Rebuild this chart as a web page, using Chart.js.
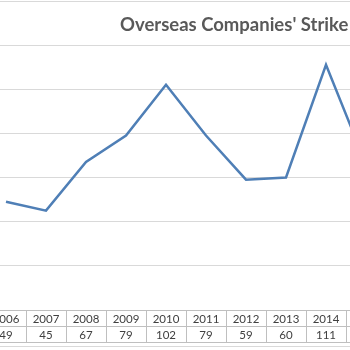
<!DOCTYPE html>
<html>
<head>
<meta charset="utf-8">
<script src="https://cdn.jsdelivr.net/npm/chart.js@4"></script>
<style>
  html, body { margin: 0; padding: 0; width: 350px; height: 350px; overflow: hidden; background: #fff; }
  #frame { position: absolute; left: -60px; top: 1px; width: 520px; height: 346px; border: 1px solid #d9d9d9; box-sizing: border-box; }
  #wrap { position: absolute; left: -54px; top: 0; width: 460px; height: 350px; }
  #title { position: absolute; left: 120px; top: 13px; white-space: nowrap; font: bold 18.5px Lato, "Open Sans", sans-serif; color: #595959; }
</style>
</head>
<body>
<div id="frame"></div>
<div id="wrap"><canvas id="c"></canvas></div>
<div id="title">Overseas Companies' Strike</div>
<script>
const years = ['2006', '2007', '2008', '2009', '2010', '2011', '2012', '2013', '2014', '2015'];
const strikes = [49, 45, 67, 79, 102, 79, 59, 60, 111, 66];

// data table under the plot, placed by the x scale
const tablePlugin = {
  id: 'dataTable',
  afterDraw(chart) {
    const ctx = chart.ctx;
    const x = chart.scales.x;
    const top = chart.chartArea.bottom;
    const rowH = 16;
    const w = x.getPixelForValue(1) - x.getPixelForValue(0);
    ctx.save();
    ctx.strokeStyle = '#bfbfbf';
    ctx.lineWidth = 1;
    ctx.fillStyle = '#404040';
    ctx.font = '11.5px Lato, "Open Sans", sans-serif';
    ctx.textAlign = 'center';
    ctx.textBaseline = 'middle';
    const left = x.getPixelForValue(0) - w / 2;
    const right = x.getPixelForValue(years.length - 1) + w / 2;
    for (let r = 0; r <= 2; r++) {
      const yy = Math.round(top + r * rowH) + 0.5;
      ctx.beginPath(); ctx.moveTo(left - 60, yy); ctx.lineTo(right, yy); ctx.stroke();
    }
    years.forEach((yr, i) => {
      const cx = x.getPixelForValue(i);
      const bx = Math.round(cx + w / 2) + 0.5;
      ctx.beginPath(); ctx.moveTo(bx, top); ctx.lineTo(bx, top + 2 * rowH); ctx.stroke();
      ctx.fillText(yr, cx, top + rowH / 2 + 1);
      ctx.fillText(String(strikes[i]), cx, top + rowH * 1.5 + 1);
    });
    ctx.restore();
  }
};

new Chart(document.getElementById('c'), {
  type: 'line',
  data: {
    labels: years,
    datasets: [{
      label: 'Strikes',
      data: strikes,
      borderColor: '#4f7fb6',
      borderWidth: 2.5,
      pointRadius: 0,
      tension: 0,
      fill: false
    }]
  },
  options: {
    responsive: true,
    maintainAspectRatio: false,
    animation: false,
    layout: { padding: { left: 40, right: 20, top: 45, bottom: 40 } },
    plugins: { legend: { display: false }, tooltip: { enabled: false } },
    scales: {
      x: { display: false, offset: true },
      y: {
        min: 0, max: 120,
        ticks: { display: false, stepSize: 20 },
        border: { display: false },
        grid: { color: '#d9d9d9', drawTicks: false },
        afterFit(s) { s.width = 0; }
      }
    }
  },
  plugins: [tablePlugin]
});
</script>
</body>
</html>
